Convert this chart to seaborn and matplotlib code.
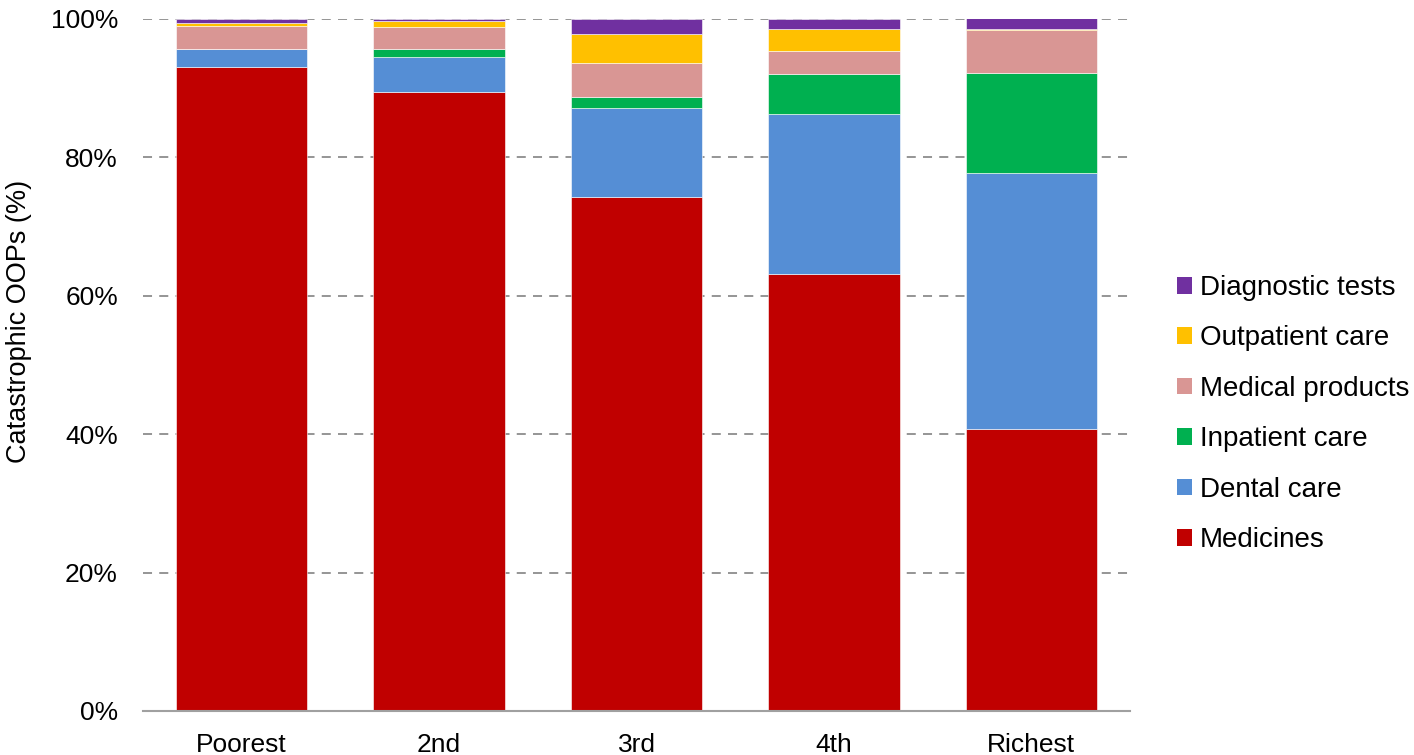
import numpy as np
import seaborn as sns
import matplotlib.pyplot as plt
from matplotlib.patches import Patch

# quintiles and shares of catastrophic out-of-pocket payments (%)
groups = ['Poorest', '2nd', '3rd', '4th', 'Richest']
medicines = [93.0, 89.5, 74.3, 63.2, 40.8]
dental = [2.6, 5.0, 12.9, 23.1, 36.9]
inpatient = [0.1, 1.1, 1.6, 5.8, 14.5]
med_products = [3.3, 3.3, 4.8, 3.3, 6.2]
outpatient = [0.4, 0.8, 4.2, 3.1, 0.2]
diagnostic = [0.6, 0.3, 2.2, 1.5, 1.8]

components = ['Medicines', 'Dental care', 'Inpatient care',
              'Medical products', 'Outpatient care', 'Diagnostic tests']
series = [medicines, dental, inpatient, med_products, outpatient, diagnostic]
colors = ['#C00000', '#558ED5', '#00B050', '#D99694', '#FFC000', '#7030A0']

sns.set_style('white')
plt.rcParams['font.family'] = ['Liberation Sans', 'DejaVu Sans']
plt.rcParams['text.color'] = 'black'
plt.rcParams['axes.labelcolor'] = 'black'

fig = plt.figure(figsize=(14.14, 7.55), dpi=100)
ax = fig.add_axes([143 / 1414, 1 - 711 / 755, (1130 - 143) / 1414, (711 - 19) / 755])

bottom = np.zeros(len(groups))
for name, vals, col in zip(components, series, colors):
    sns.barplot(x=groups, y=vals, bottom=bottom, color=col, width=0.665,
                edgecolor='white', linewidth=0.4, saturation=1, ax=ax, zorder=3)
    bottom = bottom + np.array(vals)

ax.set_xlim(-0.5, 4.5)
ax.set_ylim(0, 100)
ax.set_yticks(range(0, 101, 20))
ax.set_yticklabels([f'{v}%' for v in range(0, 101, 20)])
for v in range(20, 101, 20):
    ax.axhline(v, color='#8C8C8C', lw=1.3, ls=(0, (5, 4)), zorder=1)

for s in ['top', 'right', 'left']:
    ax.spines[s].set_visible(False)
ax.spines['bottom'].set_color('#A0A0A0')
ax.spines['bottom'].set_linewidth(1.5)
ax.spines['bottom'].set_zorder(4)

ax.tick_params(axis='both', length=0, labelsize=19, colors='black')
ax.tick_params(axis='x', pad=16)
ax.tick_params(axis='y', pad=18)

ax.set_ylabel('Catastrophic OOPs (%)', fontsize=19.5)
ax.yaxis.set_label_coords(-0.112, 0.563)
ax.set_xlabel('')

handles = [Patch(facecolor=c, edgecolor='none') for c in colors][::-1]
fig.legend(handles, components[::-1], loc='upper left',
           bbox_to_anchor=(1177 / 1414, 1 - 275 / 755), frameon=False,
           fontsize=20, handlelength=0.55, handleheight=0.55,
           handletextpad=0.28, labelspacing=0.88, borderpad=0, borderaxespad=0)

fig.savefig('out.png', dpi=100)
